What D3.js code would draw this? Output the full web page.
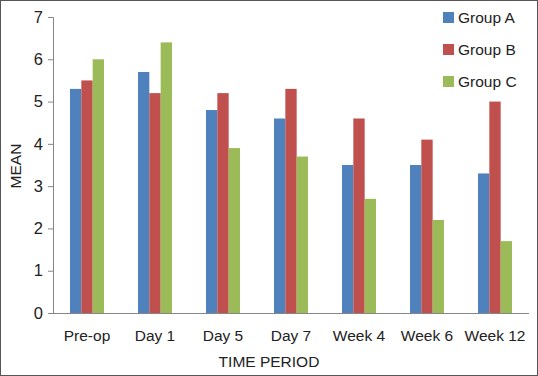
<!DOCTYPE html>
<html>
<head>
<meta charset="utf-8">
<script src="https://cdn.jsdelivr.net/npm/d3@7"></script>
<style>
  body { margin: 0; background: #fff; }
  svg { display: block; font-family: "Liberation Sans", Arial, sans-serif; }
</style>
</head>
<body>
<div id="chart"></div>
<script>
const periods = ["Pre-op", "Day 1", "Day 5", "Day 7", "Week 4", "Week 6", "Week 12"];
const groups = ["Group A", "Group B", "Group C"];
const groupA = [5.3, 5.7, 4.8, 4.6, 3.5, 3.5, 3.3];
const groupB = [5.5, 5.2, 5.2, 5.3, 4.6, 4.1, 5.0];
const groupC = [6.0, 6.4, 3.9, 3.7, 2.7, 2.2, 1.7];
const yTicks = [0, 1, 2, 3, 4, 5, 6, 7];
const colors = ["#4f81bd", "#c0504d", "#9bbb59"];

const width = 538, height = 376;
const plotLeft = 53, plotRight = 529, plotTop = 17, plotBottom = 313;

const svg = d3.select("#chart").append("svg")
    .attr("width", width)
    .attr("height", height);

// outer frame
svg.append("rect")
    .attr("x", 0.5).attr("y", 0.5)
    .attr("width", width - 1).attr("height", height - 1)
    .attr("fill", "#fff")
    .attr("stroke", "#555");

const x = d3.scaleBand()
    .domain(periods)
    .range([plotLeft, plotRight])
    .paddingInner(0.5)
    .paddingOuter(0.25);

const xg = d3.scaleBand()
    .domain(groups)
    .range([0, x.bandwidth()]);

const y = d3.scaleLinear()
    .domain([0, 7])
    .range([plotBottom, plotTop]);

const series = [groupA, groupB, groupC];

series.forEach(function (vals, gi) {
    svg.append("g").selectAll("rect")
        .data(vals)
        .join("rect")
        .attr("x", (d, i) => x(periods[i]) + xg(groups[gi]))
        .attr("y", d => y(d))
        .attr("width", xg.bandwidth())
        .attr("height", d => y(0) - y(d))
        .attr("fill", colors[gi]);
});

// y axis
const yAxis = svg.append("g")
    .attr("transform", "translate(" + plotLeft + ",0)")
    .call(d3.axisLeft(y).tickValues(yTicks).tickSize(5).tickPadding(5).tickFormat(d3.format("d")));
yAxis.selectAll("path, line").attr("stroke", "#868686");
yAxis.selectAll("text").attr("font-size", 16.5).attr("fill", "#222")
    .attr("font-family", "Liberation Sans, Arial, sans-serif");

// x axis
const xAxis = svg.append("g")
    .attr("transform", "translate(0," + plotBottom + ")")
    .call(d3.axisBottom(x).tickSize(0).tickPadding(17));
xAxis.select(".domain").attr("d", "M" + plotLeft + ",0.5H" + plotRight).attr("stroke", "#868686");
xAxis.selectAll("text").attr("font-size", 15.5).attr("fill", "#222")
    .attr("font-family", "Liberation Sans, Arial, sans-serif");

// axis titles
svg.append("text")
    .attr("x", 269).attr("y", 367)
    .attr("text-anchor", "middle")
    .attr("font-size", 15.5).attr("fill", "#222")
    .text("TIME PERIOD");

svg.append("text")
    .attr("transform", "translate(21,166) rotate(-90)")
    .attr("text-anchor", "middle")
    .attr("font-size", 15.5).attr("fill", "#222")
    .text("MEAN");

// legend
const legend = svg.append("g").attr("transform", "translate(443,12)");
groups.forEach(function (g, i) {
    const row = legend.append("g").attr("transform", "translate(0," + (i * 32) + ")");
    row.append("rect")
        .attr("width", 11).attr("height", 11)
        .attr("fill", colors[i]);
    row.append("text")
        .attr("x", 15).attr("y", 11)
        .attr("font-size", 15.5).attr("fill", "#222")
        .text(g);
});
</script>
</body>
</html>
